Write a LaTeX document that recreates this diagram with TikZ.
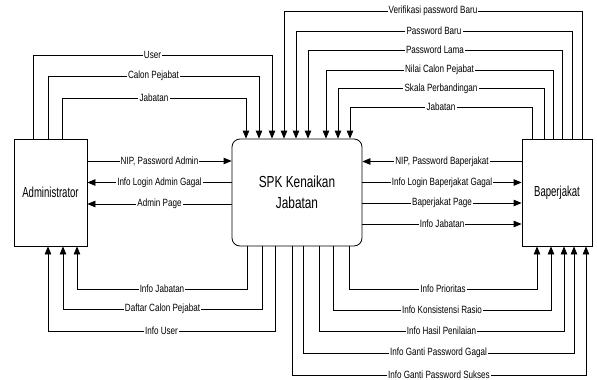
\documentclass[tikz,border=0pt]{standalone}
\usepackage{fontspec}
\setmainfont{Liberation Sans}
\newfontfamily\lblfont[FakeStretch=0.77]{Liberation Sans}
\newfontfamily\boxfont[FakeStretch=0.66]{Liberation Sans}
\newfontfamily\spkfont[FakeStretch=0.74]{Liberation Sans}
\usetikzlibrary{arrows.meta}
\begin{document}
\begin{tikzpicture}[x=1pt,y=-1pt,
  line width=0.8pt,
  entity/.style={draw,line width=0.8pt,rectangle,minimum width=73pt,minimum height=107pt,inner sep=0pt,font=\boxfont\fontsize{14.5}{16}\selectfont},
  proc/.style={draw,line width=0.8pt,rectangle,rounded corners=8pt,minimum width=130pt,minimum height=107pt,inner sep=0pt,align=center,font=\spkfont\fontsize{16}{21}\selectfont},
  flow/.style={-{Triangle[length=8pt,width=6.5pt]}},
  lbl/.style={fill=white,inner sep=1.2pt,font=\lblfont\fontsize{10.5}{11}\selectfont}
]
\useasboundingbox (0,0) rectangle (597,380);
\node[entity] (adm) at (50.5,192.5) {Administrator};
\node[entity,minimum width=70pt] (bap) at (557,192.5) {Baperjakat};
\node[proc] (spk) at (297,192.5) {SPK Kenaikan\\Jabatan};

% top-left flows (Administrator -> SPK)
\draw[flow] (33,0 |- adm.north) |- node[lbl,pos=0.75]{User} (272,55) -- (272,0 |- spk.north);
\draw[flow] (48,0 |- adm.north) |- node[lbl,pos=0.75]{Calon Pejabat} (259,76) -- (259,0 |- spk.north);
\draw[flow] (62,0 |- adm.north) |- node[lbl,pos=0.75]{Jabatan} (246,98) -- (246,0 |- spk.north);

% top-right flows (Baperjakat -> SPK)
\draw[flow] (582,0 |- bap.north) |- node[lbl,pos=0.75]{Verifikasi password Baru} (284,11) -- (284,0 |- spk.north);
\draw[flow] (572,0 |- bap.north) |- node[lbl,pos=0.75]{Password Baru} (296,31) -- (296,0 |- spk.north);
\draw[flow] (562,0 |- bap.north) |- node[lbl,pos=0.75]{Password Lama} (308,50) -- (308,0 |- spk.north);
\draw[flow] (553,0 |- bap.north) |- node[lbl,pos=0.75]{Nilai Calon Pejabat} (326,70) -- (326,0 |- spk.north);
\draw[flow] (544,0 |- bap.north) |- node[lbl,pos=0.75]{Skala Perbandingan} (338,88.5) -- (338,0 |- spk.north);
\draw[flow] (532,0 |- bap.north) |- node[lbl,pos=0.75]{Jabatan} (350,107) -- (350,0 |- spk.north);

% middle-left flows
\draw[flow] (adm.east |- 0,161) -- node[lbl]{NIP, Password Admin} (spk.west |- 0,161);
\draw[flow] (spk.west |- 0,182.5) -- node[lbl]{Info Login Admin Gagal} (adm.east |- 0,182.5);
\draw[flow] (spk.west |- 0,204) -- node[lbl]{Admin Page} (adm.east |- 0,204);

% middle-right flows
\draw[flow] (bap.west |- 0,161.5) -- node[lbl]{NIP, Password Baperjakat} (spk.east |- 0,161.5);
\draw[flow] (spk.east |- 0,182.5) -- node[lbl]{Info Login Baperjakat Gagal} (bap.west |- 0,182.5);
\draw[flow] (spk.east |- 0,203) -- node[lbl]{Baperjakat Page} (bap.west |- 0,203);
\draw[flow] (spk.east |- 0,224) -- node[lbl]{Info Jabatan} (bap.west |- 0,224);

% bottom-left flows (SPK -> Administrator)
\draw[flow] (247,0 |- spk.south) |- node[lbl,pos=0.75]{Info Jabatan} (77,289) -- (77,0 |- adm.south);
\draw[flow] (262,0 |- spk.south) |- node[lbl,pos=0.75]{Daftar Calon Pejabat} (63,309) -- (63,0 |- adm.south);
\draw[flow] (275,0 |- spk.south) |- node[lbl,pos=0.75]{Info User} (48,331) -- (48,0 |- adm.south);

% bottom-right flows (SPK -> Baperjakat)
\draw[flow] (349,0 |- spk.south) |- node[lbl,pos=0.75]{Info Prioritas} (537,289) -- (537,0 |- bap.south);
\draw[flow] (333,0 |- spk.south) |- node[lbl,pos=0.75]{Info Konsistensi Rasio} (551,310) -- (551,0 |- bap.south);
\draw[flow] (319,0 |- spk.south) |- node[lbl,pos=0.75]{Info Hasil Penilaian} (564,331) -- (564,0 |- bap.south);
\draw[flow] (303,0 |- spk.south) |- node[lbl,pos=0.75]{Info Ganti Password Gagal} (574,353) -- (574,0 |- bap.south);
\draw[flow] (292,0 |- spk.south) |- node[lbl,pos=0.75]{Info Ganti Password Sukses} (586,375) -- (586,0 |- bap.south);
\end{tikzpicture}
\end{document}
